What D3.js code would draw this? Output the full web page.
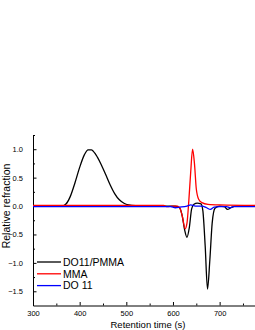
<!DOCTYPE html>
<html>
<head>
<meta charset="utf-8">
<script src="https://cdn.jsdelivr.net/npm/d3@7"></script>
<style>
  body { margin: 0; background: #fff; }
  svg { display: block; font-family: "Liberation Sans", Arial, sans-serif; }
  .axis path, .axis line { stroke: #000; stroke-width: 1; }
  .axis text { font-size: 7.5px; fill: #000; }
</style>
</head>
<body>
<svg width="255" height="330"></svg>
<script>
// retention time (s), relative refraction
const blackPts = [
  [300, 0], [350, 0], [362, 0], [370, 0.03], [380, 0.17], [390, 0.41], [400, 0.68],
  [410, 0.9], [418, 0.99], [425, 0.99], [435, 0.9], [445, 0.75], [455, 0.57],
  [465, 0.38], [475, 0.22], [485, 0.11], [495, 0.05], [505, 0.02], [520, 0.005],
  [550, 0], [605, 0], [614, -0.03], [620, -0.18], [625, -0.42], [630, -0.55],
  [635, -0.38], [640, -0.05], [645, 0.03], [652, 0.05], [660, 0.04], [664, -0.08],
  [669, -0.7], [674, -1.46], [679, -0.95], [684, -0.3], [690, -0.04], [700, 0],
  [710, -0.01], [717, -0.06], [724, -0.03], [735, 0], [800, 0]
];
const redPts = [
  [300, 0.01], [580, 0.01], [588, -0.01], [598, 0.0], [610, 0.0], [615, -0.04],
  [620, -0.18], [626, -0.4], [630, -0.3], [634, 0.1], [638, 0.6], [642, 1.0],
  [646, 0.75], [650, 0.3], [655, 0.12], [662, 0.06], [675, 0.03], [700, 0.02],
  [800, 0.01]
];
const bluePts = [
  [300, -0.01], [595, -0.01], [605, -0.03], [615, -0.02], [630, 0.0], [638, 0.02],
  [648, 0.0], [662, 0.0], [672, -0.03], [680, -0.06], [688, -0.02], [700, -0.01],
  [715, -0.01], [722, -0.03], [730, -0.01], [800, -0.01]
];

const series = [
  { name: 'DO11/PMMA', color: '#000000', values: blackPts },
  { name: 'MMA', color: '#ff0000', values: redPts },
  { name: 'DO 11', color: '#0000ff', values: bluePts }
];
const xTicks = [300, 400, 500, 600, 700];
const yTicks = [-1.5, -1.0, -0.5, 0.0, 0.5, 1.0];

const svg = d3.select('svg');

const x = d3.scaleLinear().domain([300, 800]).range([33, 266.3]);
const y = d3.scaleLinear().domain([-1.75, 1.25]).range([305.5, 135]);

// minor ticks
svg.append('g')
  .attr('class', 'axis')
  .attr('transform', `translate(0, ${y(-1.75)})`)
  .call(d3.axisBottom(x).tickValues(d3.range(350, 800, 100)).tickSize(-2).tickFormat(''))
  .select('.domain').remove();
svg.append('g')
  .attr('class', 'axis')
  .attr('transform', `translate(${x(300)}, 0)`)
  .call(d3.axisLeft(y).tickValues(d3.range(-1.25, 1.3, 0.5)).tickSize(-2).tickFormat(''))
  .select('.domain').remove();

// major axes
svg.append('g')
  .attr('class', 'axis')
  .attr('transform', `translate(0, ${y(-1.75)})`)
  .call(d3.axisBottom(x).tickValues(xTicks).tickSizeInner(-3.5).tickSizeOuter(0).tickPadding(8))
  .selectAll('text').attr('dy', '0.3em');

svg.append('g')
  .attr('class', 'axis')
  .attr('transform', `translate(${x(300)}, 0)`)
  .call(d3.axisLeft(y).tickValues(yTicks).tickSizeInner(-3.5).tickSizeOuter(0).tickPadding(10)
    .tickFormat(d3.format('.1f')));

const line = d3.line()
  .x(d => x(d[0]))
  .y(d => y(d[1]))
  .curve(d3.curveMonotoneX);

svg.append('g')
  .selectAll('path')
  .data(series)
  .join('path')
  .attr('d', d => line(d.values))
  .attr('fill', 'none')
  .attr('stroke', d => d.color)
  .attr('stroke-width', 1.3);

// legend
const legend = svg.append('g')
  .selectAll('g')
  .data(series)
  .join('g')
  .attr('transform', (d, i) => `translate(37, ${262 + i * 11.8})`);
legend.append('line')
  .attr('x1', 0).attr('x2', 24)
  .attr('stroke', d => d.color)
  .attr('stroke-width', 1.3);
legend.append('text')
  .attr('x', 26)
  .attr('dy', '0.36em')
  .attr('font-size', 10.5)
  .text(d => d.name);

svg.append('text')
  .attr('x', 148)
  .attr('y', 327.5)
  .attr('text-anchor', 'middle')
  .attr('font-size', 9.5)
  .text('Retention time (s)');

svg.append('text')
  .attr('transform', 'translate(10, 206) rotate(-90)')
  .attr('text-anchor', 'middle')
  .attr('font-size', 10.5)
  .text('Relative refraction');
</script>
</body>
</html>
